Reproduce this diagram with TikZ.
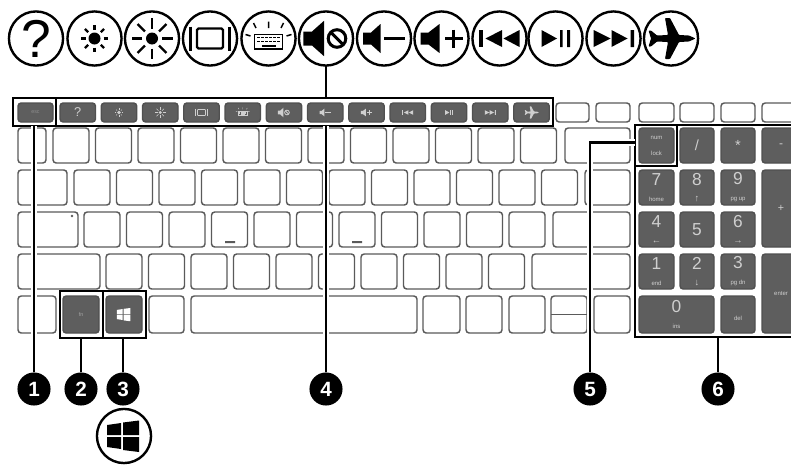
\documentclass[tikz,border=0pt]{standalone}
\usepackage{fontspec}
\setmainfont{Liberation Sans}
\definecolor{keyd}{HTML}{5E5E5E}
\definecolor{keyl}{HTML}{5A5A5A}
\definecolor{keyt}{HTML}{CFCFCF}
\tikzset{
  x=0.75pt,y=-0.75pt,
  keybase/.style={rectangle,inner sep=0pt,outer sep=0pt,rounded corners=2.4pt,align=center,line width=1.1pt},
  whitekey/.style={keybase,draw=keyl,fill=white},
  darkkey/.style={keybase,draw=keyd!85!black,fill=keyd,text=keyt},
  mark box/.style={rectangle,inner sep=0pt,outer sep=0pt,draw=black,line width=2pt},
  lead/.style={draw=black,line width=2pt},
  halo/.style={draw=white,line width=5.2pt},
  ringicon/.style={circle,draw=black,fill=white,line width=1.8pt,inner sep=0pt,outer sep=0pt,minimum size=40.6pt},
  callout/.style={circle,fill=black,text=white,inner sep=0pt,outer sep=0pt,minimum size=24.8pt,font=\fontsize{15.5}{15.5}\selectfont\bfseries},
  icl/.style={line width={#1*\icw},draw=icc},
  icf/.style={fill=icc},
}
\newcommand{\boxn}[7][]{\node[#6,minimum width={(#4-#2)*0.75},minimum height={(#5-#3)*0.75},#1] (#7) at ({(#2+#4)/2},{(#3+#5)/2}) {};}
\newcommand{\boxt}[7]{\node[#6,minimum width={(#4-#2)*0.75},minimum height={(#5-#3)*0.75}] (#7) at ({(#2+#4)/2},{(#3+#5)/2}) {#1};}
\newcommand{\bigd}[1]{{\fontsize{13}{13}\selectfont #1}}
\newcommand{\smt}[1]{{\fontsize{4.5}{5}\selectfont #1}}
\newcommand{\sma}[1]{{\fontsize{7}{6}\selectfont #1}}
\newcommand{\icon}[4]{\begin{scope}[shift={#2},scale=#3]\colorlet{icc}{#4}\pgfmathsetmacro\icw{#3*0.75}\def\ics{#3}#1\end{scope}}
\newcommand{\icQ}{\node[text=icc,scale=\ics,inner sep=0pt,font=\fontsize{40}{40}\selectfont] (qm) at (0,0) {?};}
\newcommand{\icSunA}{\fill[icf] (0,0) circle[radius=6];\foreach \a in {0,45,...,315}\draw[icl=2.3] (\a:9) -- (\a:13.5);}
\newcommand{\icSunB}{\fill[icf] (0,0) circle[radius=6];\foreach \a in {0,45,...,315}\draw[icl=2.4] (\a:10) -- (\a:20.5);}
\newcommand{\icDisp}{\draw[icl=2.4,rounded corners={1.5*\icw}] (-13,-10) rectangle (13,10);\draw[icl=2.8] (-19.5,-12) -- (-19.5,12) (19.5,-12) -- (19.5,12);}
\newcommand{\icKb}{\draw[icl=1.5] (-14,-4) rectangle (14,10.5);
  \foreach \yy in {-1,3}\foreach \xx in {-10,-6,...,10}\fill[icf] (\xx-1.2,\yy-.8) rectangle (\xx+1.2,\yy+.8);
  \fill[icf] (-7,6.3) rectangle (7,8);
  \draw[icl=1.5] (0,-17) -- (0,-10.5) (-15,-15.5) -- (-12.5,-10.5) (15,-15.5) -- (12.5,-10.5) (-23,-4) -- (-18,-2.5) (23,-4) -- (18,-2.5);}
\newcommand{\icMute}{\fill[icf] (-22.7,-7) -- (-14,-7) -- (-2,-17.7) -- (-2,17.7) -- (-14,7) -- (-22.7,7) -- cycle;\draw[icl=3] (11,0) circle[radius=8.8];\draw[icl=3] (4.8,-6.2) -- (17.2,6.2);}
\newcommand{\icVolD}{\fill[icf] (-21,-6) -- (-13,-6) -- (-3.5,-14.5) -- (-3.5,14.5) -- (-13,6) -- (-21,6) -- cycle;\draw[icl=3.2] (0,0) -- (21,0);}
\newcommand{\icVolU}{\fill[icf] (-21,-6) -- (-13,-6) -- (-2,-14.5) -- (-2,14.5) -- (-13,6) -- (-21,6) -- cycle;\draw[icl=3.2] (3.5,0) -- (21,0) (12,-9) -- (12,9);}
\newcommand{\icPrev}{\fill[icf] (-20.5,-8.5) rectangle (-17,8.5);\fill[icf] (-14,0) -- (2.5,-8.5) -- (2.5,8.5) -- cycle (4,0) -- (20,-8.5) -- (20,8.5) -- cycle;}
\newcommand{\icPlay}{\fill[icf] (-14,-8.5) -- (1.5,0) -- (-14,8.5) -- cycle (4.5,-8.5) rectangle (7.2,8.5) (11.5,-8.5) rectangle (14.5,8.5);}
\newcommand{\icNext}{\fill[icf] (-20,-8.5) -- (-3,0) -- (-20,8.5) -- cycle (-2,-8.5) -- (14,0) -- (-2,8.5) -- cycle (17,-8.5) rectangle (20.5,8.5);}
\newcommand{\icPlane}{\fill[icf,rounded corners={0.8*\icw}] (24.5,0) -- (18,-3) -- (8,-3.5) -- (-1,-20.5) -- (-6,-20.5) -- (-3,-3.5) -- (-14,-3) -- (-20,-8) -- (-22.5,-8) -- (-20,0) -- (-22.5,8) -- (-20,8) -- (-14,3) -- (-3,3.5) -- (-6,20.5) -- (-1,20.5) -- (8,3.5) -- (18,3) -- cycle;}
\newcommand{\icWin}{\fill[icf] (-17,-11) -- (-3,-13) -- (-3,-1) -- (-17,-1) -- cycle (-1,-13.5) -- (15,-15.5) -- (15,-1) -- (-1,-1) -- cycle (-17,1) -- (-3,1) -- (-3,13) -- (-17,11) -- cycle (-1,1) -- (15,1) -- (15,16) -- (-1,14) -- cycle;}
\begin{document}
\begin{tikzpicture}
\useasboundingbox (0,0) rectangle (791,464);
\clip (0,0) rectangle (791,464);
\fill[white] (0,0) rectangle (791,464);

% function row
\boxt{\color{keyd!70!white}\fontsize{4}{4}\selectfont esc}{18}{103}{53}{122}{darkkey}{fk0}
\foreach \i in {1,...,12}{
  \pgfmathsetmacro\xa{60+41.25*(\i-1)}
  \pgfmathsetmacro\xb{\xa+35.5}
  \boxn{\xa}{103}{\xb}{122}{darkkey}{fk\i}
}
\foreach \i/\c/\s in {1/\icQ/.24,2/\icSunA/.3,3/\icSunB/.26,4/\icDisp/.3,5/\icKb/.3,6/\icMute/.27,7/\icVolD/.27,8/\icVolU/.27,9/\icPrev/.27,10/\icPlay/.27,11/\icNext/.27,12/\icPlane/.3}{
  \icon{\c}{(fk\i.center)}{\s}{keyt}
}
\boxn{556}{103}{589}{122}{whitekey}{w1}
\boxn{596}{103}{630}{122}{whitekey}{w2}
\boxn{639}{103}{674}{122}{whitekey}{w3}
\boxn{680}{103}{714}{122}{whitekey}{w4}
\boxn{721}{103}{755}{122}{whitekey}{w5}
\boxn{762}{103}{800}{122}{whitekey}{w6}

% row 2
\boxn{18}{128}{46}{163}{whitekey}{ra}
\foreach \i in {0,...,11}{\pgfmathsetmacro\xa{53+42.5*\i}\pgfmathsetmacro\xb{\xa+36}\boxn{\xa}{128}{\xb}{163}{whitekey}{rb\i}}
\boxn{565}{128}{630}{163}{whitekey}{rc}
% row 3
\boxn{18}{170}{67}{205}{whitekey}{sa}
\foreach \i in {0,...,11}{\pgfmathsetmacro\xa{74+42.5*\i}\pgfmathsetmacro\xb{\xa+36}\boxn{\xa}{170}{\xb}{205}{whitekey}{sb\i}}
\boxn{585}{170}{630}{205}{whitekey}{sc}
% row 4
\boxn{18}{212}{78}{247}{whitekey}{ta}
\foreach \i in {0,...,10}{\pgfmathsetmacro\xa{84+42.5*\i}\pgfmathsetmacro\xb{\xa+36}\boxn{\xa}{212}{\xb}{247}{whitekey}{tb\i}}
\boxn{553}{212}{630}{247}{whitekey}{tc}
\fill[keyl] (72,216) circle[radius=1.3];
\fill[keyl] (225,241) rectangle (235,243) (352,241) rectangle (362,243);
% row 5
\boxn{18}{254}{100}{289}{whitekey}{ua}
\foreach \i in {0,...,9}{\pgfmathsetmacro\xa{106+42.5*\i}\pgfmathsetmacro\xb{\xa+36}\boxn{\xa}{254}{\xb}{289}{whitekey}{ub\i}}
\boxn{532}{254}{630}{289}{whitekey}{uc}
% row 6
\boxn{18}{296}{56}{333}{whitekey}{va}
\boxt{\color{keyd!55!white}\fontsize{4}{4}\selectfont fn}{63}{296}{99}{333}{darkkey}{fnkey}
\boxn{106}{296}{142}{333}{darkkey}{winkey}
\icon{\icWin}{(winkey.center)}{.42}{white}
\boxn{149}{296}{184}{333}{whitekey}{vb}
\boxn{191}{296}{417}{333}{whitekey}{space}
\boxn{423}{296}{460}{333}{whitekey}{vc}
\boxn{466}{296}{502}{333}{whitekey}{vd}
\boxn{509}{296}{545}{333}{whitekey}{ve}
\boxn{551}{296}{587}{333}{whitekey}{arrows}
\draw[keyl,line width=1.1pt] (arrows.west) -- (arrows.east);
\boxn{594}{296}{630}{333}{whitekey}{vf}

% numeric pad
\boxt{\smt{num}\\\smt{lock}}{639}{128}{674}{163}{darkkey}{nlock}
\boxt{\fontsize{11}{11}\selectfont /}{680}{128}{714}{163}{darkkey}{nslash}
\boxt{\fontsize{11}{11}\selectfont *}{721}{128}{755}{163}{darkkey}{nstar}
\boxt{\fontsize{9}{9}\selectfont -}{762}{128}{800}{163}{darkkey}{nminus}
\boxt{\bigd{7}\\\smt{home}}{639}{170}{674}{205}{darkkey}{n7}
\boxt{\bigd{8}\\\sma{↑}}{680}{170}{714}{205}{darkkey}{n8}
\boxt{\bigd{9}\\\smt{pg up}}{721}{170}{755}{205}{darkkey}{n9}
\boxt{\fontsize{8}{8}\selectfont +}{762}{170}{800}{247}{darkkey}{nplus}
\boxt{\bigd{4}\\\sma{←}}{639}{212}{674}{247}{darkkey}{n4}
\boxt{\bigd{5}}{680}{212}{714}{247}{darkkey}{n5}
\boxt{\bigd{6}\\\sma{→}}{721}{212}{755}{247}{darkkey}{n6}
\boxt{\bigd{1}\\\smt{end}}{639}{254}{674}{289}{darkkey}{n1}
\boxt{\bigd{2}\\\sma{↓}}{680}{254}{714}{289}{darkkey}{n2}
\boxt{\bigd{3}\\\smt{pg dn}}{721}{254}{755}{289}{darkkey}{n3}
\boxt{\smt{enter}}{762}{254}{800}{333}{darkkey}{nenter}
\boxt{\bigd{0}\\\smt{ins}}{639}{296}{714}{333}{darkkey}{n0}
\boxt{\raisebox{-9pt}{\smt{del}}}{721}{296}{755}{333}{darkkey}{ndel}

% marking boxes
\boxn{13}{98}{553}{126}{mark box}{fbox}
\boxn{13}{98}{56}{126}{mark box}{escbox}
\boxn{60}{291}{103}{338}{mark box}{fnbox}
\boxn{103}{291}{146}{338}{mark box}{winbox}
\boxn[]{635}{125}{810}{337}{mark box}{padbox}
\boxn{635}{125}{677}{166}{mark box}{lockbox}

% ring icons
\foreach \i/\x/\c in {1/36/\icQ,2/94.5/\icSunA,3/152/\icSunB,4/210/\icDisp,5/268.5/\icKb,6/326/\icMute,7/384/\icVolD,8/441.5/\icVolU,9/499.5/\icPrev,10/555.5/\icPlay,11/613.5/\icNext,12/671/\icPlane}{
  \node[ringicon] (ic\i) at (\x,38.5) {};
  \icon{\c}{(ic\i.center)}{1}{black}
}
\node[ringicon] (icw) at (124,436) {};
\icon{\icWin}{(icw.center)}{1}{black}

% callouts
\node[callout] (c1) at (34,389) {1};
\node[callout] (c2) at (81,389) {2};
\node[callout] (c3) at (123,389) {3};
\node[callout] (c4) at (326,389) {4};
\node[callout] (c5) at (590,389) {5};
\node[callout] (c6) at (718,389) {6};

% connectors
\draw[halo] (c1.north) -- (c1.north |- fbox.south);
\draw[halo] (c4.north) -- (c4.north |- fbox.south);
\draw[halo] ([yshift=2.3pt]lockbox.west) -| (c5.north);
\draw[lead] (c1.north) -- (c1.north |- fbox.south);
\draw[lead] (c2.north) -- (c2.north |- fnbox.south);
\draw[lead] (c3.north) -- (c3.north |- winbox.south);
\draw[lead] (c4.north) -- (c4.north |- fbox.south);
\draw[lead] ([yshift=2.3pt]lockbox.west) -| (c5.north);
\draw[lead] (c6.north) -- (c6.north |- padbox.south);
\draw[lead] (ic6.south) -- (ic6.south |- fbox.north);
\end{tikzpicture}
\end{document}
